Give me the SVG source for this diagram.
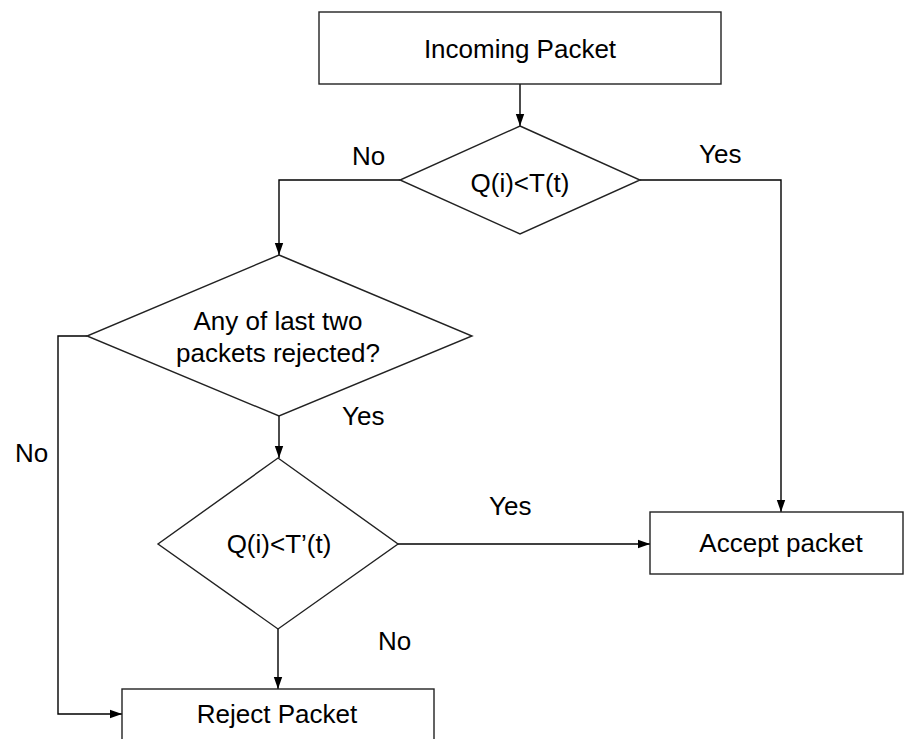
<svg xmlns="http://www.w3.org/2000/svg" width="904" height="739" viewBox="0 0 904 739">
  <defs>
    <marker id="arrow" markerWidth="12" markerHeight="10" refX="12" refY="5" orient="auto" markerUnits="userSpaceOnUse">
      <path d="M0,0.8 L12,5 L0,9.2 z" fill="#000"/>
    </marker>
    <style>
      .shape { fill: #fff; stroke: #222; stroke-width: 1.4; }
      .edge { fill: none; stroke: #000; stroke-width: 1.4; }
      text { font-family: "Liberation Sans", Arial, sans-serif; font-size: 26px; fill: #000; }
      .c { text-anchor: middle; }
    </style>
  </defs>
  <rect width="904" height="739" fill="#fff"/>

  <!-- connectors -->
  <g id="connectors">
    <path class="edge" d="M520,84 L520,126" marker-end="url(#arrow)"/>
    <path class="edge" d="M400,180 L279,180 L279,255" marker-end="url(#arrow)"/>
    <path class="edge" d="M640,180 L781,180 L781,512" marker-end="url(#arrow)"/>
    <path class="edge" d="M279,416 L279,458" marker-end="url(#arrow)"/>
    <path class="edge" d="M87,336 L58,336 L58,714 L122,714" marker-end="url(#arrow)"/>
    <path class="edge" d="M398,544 L650,544" marker-end="url(#arrow)"/>
    <path class="edge" d="M278,629 L278,689" marker-end="url(#arrow)"/>
  </g>

  <!-- edge labels -->
  <g id="labels">
    <text x="352" y="165">No</text>
    <text x="699" y="163">Yes</text>
    <text x="342" y="425">Yes</text>
    <text x="15" y="462">No</text>
    <text x="489" y="515">Yes</text>
    <text x="378" y="650">No</text>
  </g>

  <g id="incoming">
    <rect class="shape" x="319" y="12" width="402" height="72"/>
    <text class="c" x="520" y="58">Incoming Packet</text>
  </g>

  <g id="check-threshold">
    <polygon class="shape" points="520,126 640,180 520,234 400,180"/>
    <text class="c" x="520" y="192">Q(i)&lt;T(t)</text>
  </g>

  <g id="check-history">
    <polygon class="shape" points="279,255 472,336 279,416 87,336"/>
    <text class="c" x="278" y="330">Any of last two</text>
    <text class="c" x="278" y="362">packets rejected?</text>
  </g>

  <g id="check-alt-threshold">
    <polygon class="shape" points="278,458 398,544 278,629 158,544"/>
    <text class="c" x="279" y="553">Q(i)&lt;T’(t)</text>
  </g>

  <g id="accept">
    <rect class="shape" x="650" y="512" width="253" height="62"/>
    <text class="c" x="781" y="552">Accept packet</text>
  </g>

  <g id="reject">
    <rect class="shape" x="122" y="689" width="312" height="60"/>
    <text class="c" x="277" y="723">Reject Packet</text>
  </g>
</svg>
